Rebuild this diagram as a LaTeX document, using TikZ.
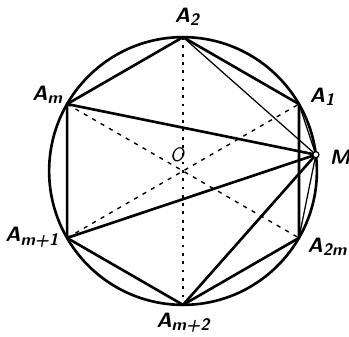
\documentclass[tikz,border=0pt]{standalone}
\usepackage{tikz}
\usetikzlibrary{positioning}
\newcommand{\sub}[1]{\raisebox{-0.35ex}{\fontsize{12}{14}\selectfont #1}}

\begin{document}
\begin{tikzpicture}[
  thickline/.style={line width=1.9pt, line join=round},
  thinline/.style={line width=0.9pt},
  diam/.style={line width=1pt, dash pattern=on 3pt off 4pt},
  lbl/.style={font=\fontsize{15}{18}\selectfont\sffamily\bfseries\itshape, inner sep=1pt},
]
\def\R{3.4}
\useasboundingbox (-4.648,-4.216) rectangle (4.216,4.343);
% points on the circle
\coordinate (O) at (0,0);
\coordinate (A1) at (30:\R);
\coordinate (A2) at (90:\R);
\coordinate (Am) at (150:\R);
\coordinate (Am1) at (210:\R);
\coordinate (Am2) at (270:\R);
\coordinate (A2m) at (330:\R);
\coordinate (M) at (7:\R);
% circle and hexagon
\draw[thickline] (O) circle (\R);
\draw[thickline] (A1) -- (A2) -- (Am) -- (Am1) -- (Am2) -- (A2m) -- cycle;
% diameters
\draw[diam, dash pattern=on 2pt off 4pt] (A2) -- (Am2);
\draw[diam] (Am) -- (A2m);
\draw[diam] (Am1) -- (A1);
% chords from M
\draw[thickline] (M) -- (Am);
\draw[thickline] (M) -- (Am1);
\draw[thickline] (M) -- (Am2);
\draw[thinline] (M) -- (A2);
\draw[thinline] (M) -- (A1);
\draw[thinline] (M) -- (A2m);
\draw[line width=0.9pt, fill=white] (M) circle (2.2pt);
% labels
\node[lbl] (lA2) at (0.10,3.91) {A\sub{2}};
\node[lbl] (lAm) at (-3.45,1.93) {A\sub{m}};
\node[lbl] (lA1) at (3.53,1.88) {A\sub{1}};
\node[lbl] (lM) at (3.99,0.36) {M};
\node[lbl, font=\fontsize{14}{16}\selectfont\sffamily\itshape] (lO) at (-0.15,0.41) {O};
\node[lbl] (lAm1) at (-3.84,-1.68) {A\sub{m+1}};
\node[lbl] (lA2m) at (3.66,-1.93) {A\sub{2m}};
\node[lbl] (lAm2) at (0,-3.86) {A\sub{m+2}};
\end{tikzpicture}
\end{document}
